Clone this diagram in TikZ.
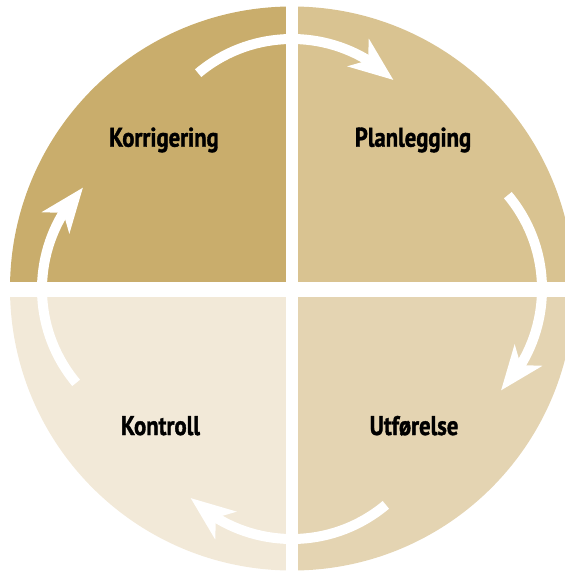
\documentclass[tikz,border=0pt]{standalone}
\usepackage{fontspec}
\setmainfont{PT Sans}[FakeStretch=0.84,BoldFeatures={FakeBold=1.3}]
\usetikzlibrary{arrows.meta,bending}
\definecolor{quadTL}{RGB}{201,173,108}
\definecolor{quadTR}{RGB}{217,195,145}
\definecolor{quadBR}{RGB}{228,212,178}
\definecolor{quadBL}{RGB}{242,233,216}
\begin{document}
\begin{tikzpicture}[x=1pt,y=1pt,
  cyclearrow/.style={white, line width=10pt,
    -{Stealth[length=44pt,width=34pt,inset=12pt]}},
  phaselabel/.style={font=\bfseries\fontsize{27}{32}\selectfont,
    anchor=base, inner sep=0pt, text=black}]
\useasboundingbox (0,0) rectangle (565,-571);
\coordinate (O) at (292,-288.5);
% four coloured quarters of the disc
\fill[quadTL] (O) -- ++(180:282) arc[start angle=180,end angle=90,radius=282] -- cycle;
\fill[quadTR] (O) -- ++(90:282) arc[start angle=90,end angle=0,radius=282] -- cycle;
\fill[quadBR] (O) -- ++(0:282) arc[start angle=0,end angle=-90,radius=282] -- cycle;
\fill[quadBL] (O) -- ++(-90:282) arc[start angle=-90,end angle=-180,radius=282] -- cycle;
% white cross separating the quarters
\fill[white] (286,10) rectangle (298.3,-580);
\fill[white] (-10,-281.7) rectangle (580,-296.7);
% centres of the four arrow arcs
\coordinate (ctop) at (292,-185);
\coordinate (cright) at (396,-289);
\coordinate (cbottom) at (292,-393);
\coordinate (cleft) at (188,-289);
% clockwise arrows
\draw[cyclearrow] (ctop) ++(130:146) arc[start angle=130,end angle=46,radius=146];
\draw[cyclearrow] (cright) ++(40:146) arc[start angle=40,end angle=-44,radius=146];
\draw[cyclearrow] (cbottom) ++(-50:146) arc[start angle=-50,end angle=-134,radius=146];
\draw[cyclearrow] (cleft) ++(220:146) arc[start angle=220,end angle=136,radius=146];
% phase labels
\node[phaselabel] (korr) at (164,-146.7) {Korrigering};
\node[phaselabel] (plan) at (413,-146.7) {Planlegging};
\node[phaselabel] (kont) at (160.5,-435) {Kontroll};
\node[phaselabel] (utf) at (414,-435) {Utførelse};
\end{tikzpicture}
\end{document}
